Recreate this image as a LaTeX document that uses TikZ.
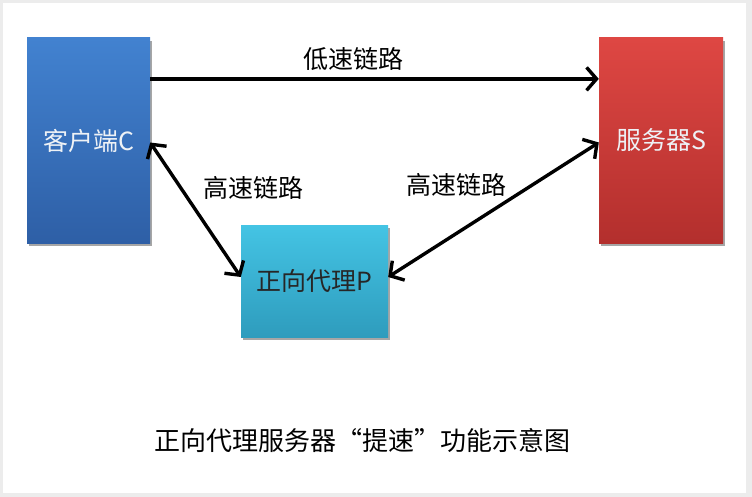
\documentclass[tikz,border=0pt]{standalone}
\usepackage{fontspec}
\setmainfont{Noto Sans CJK SC}
\usetikzlibrary{arrows.meta,shadows,calc}
\definecolor{frameg}{HTML}{ECECEC}
\definecolor{cltop}{HTML}{4282D0}
\definecolor{clbot}{HTML}{2E5FA6}
\definecolor{svtop}{HTML}{DE4743}
\definecolor{svbot}{HTML}{B32F2D}
\definecolor{pxtop}{HTML}{44C4E4}
\definecolor{pxbot}{HTML}{2E9CBD}
\definecolor{boxtxt}{HTML}{EEF2F6}
\tikzset{
  boxnode/.style={rectangle, inner sep=0pt, font=\fontsize{25}{28}\selectfont, text=boxtxt,
    drop shadow={shadow xshift=2pt, shadow yshift=-3pt, opacity=0.35, fill=black}},
  lbl/.style={font=\fontsize{25}{28}\selectfont, text=black},
  arr/.style={line width=3.4pt, black, {Straight Barb[length=10pt,width=23pt,line width=3.4pt]}-{Straight Barb[length=10pt,width=23pt,line width=3.4pt]}},
  arrone/.style={line width=3.4pt, black, -{Straight Barb[length=10pt,width=23pt,line width=3.4pt]}},
}
\begin{document}
\begin{tikzpicture}[x=1pt,y=-1pt]
\useasboundingbox (0,0) rectangle (752,497);
\fill[frameg] (0,0) rectangle (752,497);
\fill[white] (3,3) rectangle (746,493);
% boxes
\node[boxnode, minimum width=123pt, minimum height=205pt, top color=cltop, bottom color=clbot] (client) at (88.5,140.5) {客户端C};
\node[boxnode, minimum width=124pt, minimum height=205pt, top color=svtop, bottom color=svbot] (server) at (661,140.5) {服务器S};
\node[boxnode, minimum width=147pt, minimum height=112pt, top color=pxtop, bottom color=pxbot, text=black!85] (proxy) at (314.5,281) {正向代理P};
% connectors
\coordinate (cA) at ($(client.north east)!0.2!(client.south east)$);
\coordinate (sA) at ($(server.north west)!0.2!(server.south west)$);
\draw[arrone] (cA) -- (sA);
\draw[arr] ([yshift=-2pt]client.east) -- ([yshift=4pt]proxy.west);
\draw[arr] ([yshift=4pt]proxy.east) -- ([yshift=-2pt]server.west);
% labels
\node[lbl] (lowlbl) at (353,59) {低速链路};
\node[lbl] (hl) at (253,188) {高速链路};
\node[lbl] (hr) at (456,185) {高速链路};
\node[lbl, font=\fontsize{26}{29}\selectfont] (cap) at (362,441) {正向代理服务器“提速”功能示意图};
\end{tikzpicture}
\end{document}
